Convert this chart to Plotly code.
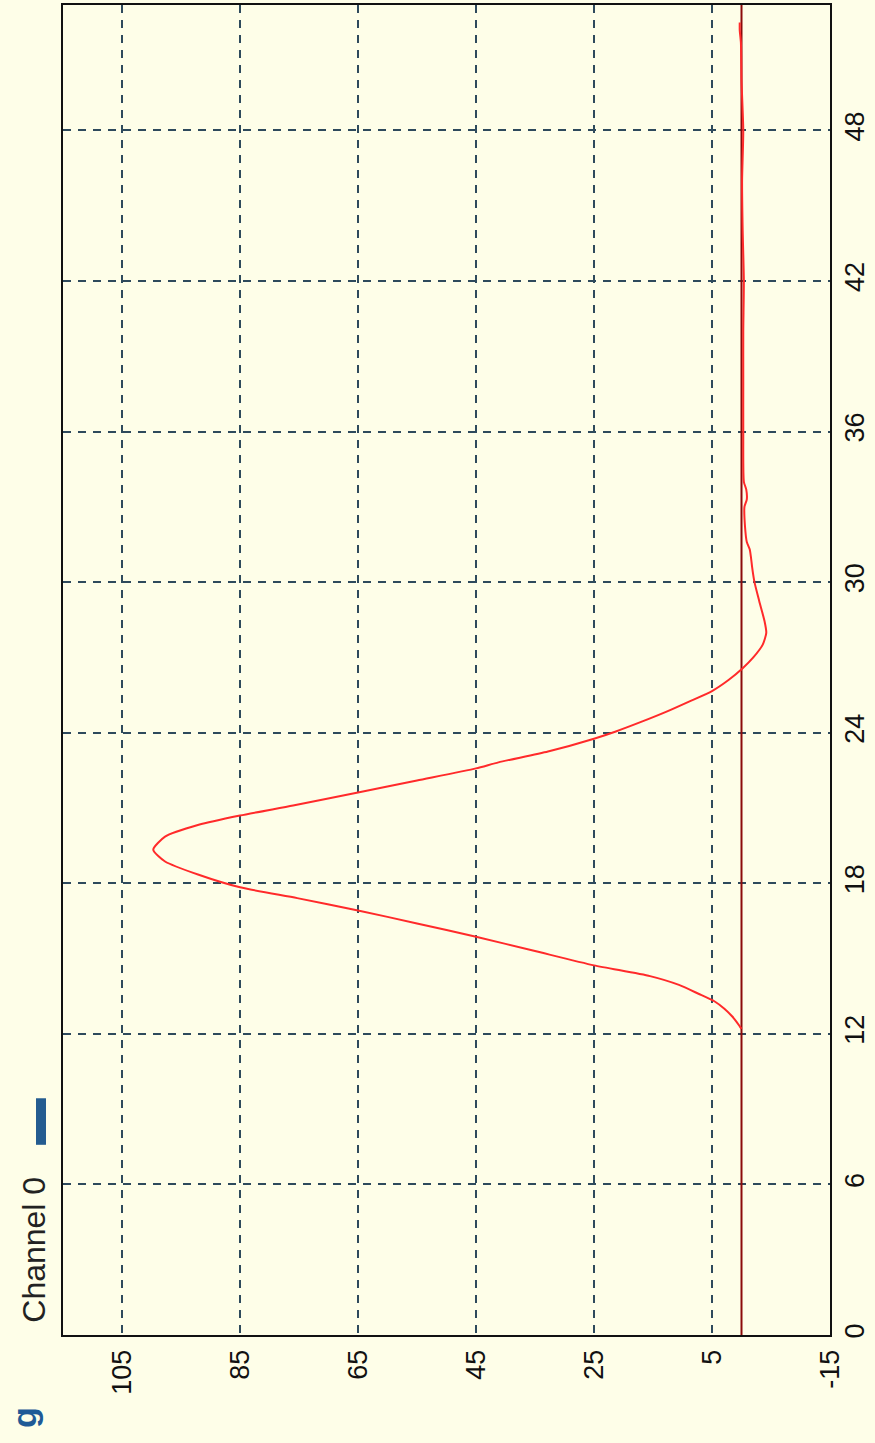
import plotly.graph_objects as go

# Time axis (drawn vertically) and signal values (drawn horizontally)
time = [12.2, 12.3, 12.5, 12.7, 13.0, 13.3, 13.6, 13.95, 14.3, 14.73, 15.3, 15.87,
        16.4, 16.92, 17.41, 17.84, 18.34, 18.87, 19.34, 19.86, 20.33, 20.7, 21.1,
        21.62, 22.1, 22.58, 22.82, 23.25, 23.76, 24.05, 24.45, 24.83, 25.25, 25.66,
        26.1, 26.57, 27.0, 27.51, 27.98, 28.45, 29.25, 30.0, 30.6, 31.0, 31.3, 31.6,
        32.2, 33.0, 33.3, 33.7, 34.0, 36.0, 38.0, 40.0, 42.0, 44.0, 46.0, 48.0,
        50.0, 51.5, 52.0, 52.3]
signal = [0.0, 0.3, 0.9, 1.6, 2.9, 4.6, 7.3, 10.6, 15.5, 25.0, 35.0, 45.0,
          55.0, 65.0, 75.3, 85.0, 92.0, 97.7, 99.7, 97.7, 92.0, 85.0, 76.0,
          65.0, 55.0, 45.0, 41.2, 32.8, 25.0, 21.3, 16.8, 12.8, 8.8, 5.0,
          2.2, -0.2, -2.0, -3.6, -4.2, -3.9, -3.0, -2.2, -1.8, -1.6, -1.4, -0.9,
          -0.6, -0.5, -0.9, -0.8, -0.4, -0.3, -0.3, -0.3, -0.4, -0.2, -0.1, -0.3,
          0.0, 0.1, 0.3, 0.3]

baseline_time = [0, 53]
baseline_value = [0, 0]

value_ticks = [105, 85, 65, 45, 25, 5, -15]
time_ticks = [0, 6, 12, 18, 24, 30, 36, 42, 48]

BG = "#FEFEE8"
GRID = "#2E4A5C"
FONT = "Liberation Sans Narrow, Arial Narrow, Liberation Sans, Arial, sans-serif"

fig = go.Figure()
fig.add_trace(go.Scatter(x=baseline_value, y=baseline_time, mode="lines",
                         line=dict(color="#8B0A0A", width=2), showlegend=False,
                         hoverinfo="skip"))
fig.add_trace(go.Scatter(x=signal, y=time, mode="lines",
                         line=dict(color="#FF2A2A", width=2, shape="spline", smoothing=0.6),
                         name="Channel 0", showlegend=False))

fig.update_layout(
    width=875, height=1443,
    margin=dict(l=63, r=45, t=5, b=108),
    paper_bgcolor=BG, plot_bgcolor=BG,
    font=dict(family=FONT, color="#111111"),
)
fig.update_xaxes(
    range=[115, -15], tickvals=value_ticks, ticktext=[str(v) for v in value_ticks],
    tickangle=-90, tickfont=dict(size=27, family=FONT, color="#111111"),
    showgrid=True, gridcolor=GRID, gridwidth=2, griddash="8px,7px",
    showline=True, linecolor="#111111", linewidth=2, mirror=True,
    zeroline=False, ticks="", ticklabelstandoff=2, automargin=False,
)
fig.update_yaxes(
    range=[0, 53], tickvals=time_ticks, ticktext=[str(v) for v in time_ticks],
    side="right", tickangle=-90, tickfont=dict(size=27, family=FONT, color="#111111"),
    showgrid=True, gridcolor=GRID, gridwidth=2, griddash="8px,7px",
    showline=True, linecolor="#111111", linewidth=2, mirror=True,
    zeroline=False, ticks="", ticklabelstandoff=0, automargin=False,
)

fig.add_annotation(text="Channel 0", xref="paper", yref="paper", x=-0.038, y=0.064,
                   xanchor="center", yanchor="middle", textangle=-90, showarrow=False,
                   font=dict(size=32, family=FONT, color="#222222"))
fig.add_annotation(text="<b>g</b>", xref="paper", yref="paper", x=-0.05, y=-0.062,
                   xanchor="center", yanchor="middle", textangle=-90, showarrow=False,
                   font=dict(size=34, family="Liberation Sans, Arial, sans-serif",
                             color="#1F5A96"))
fig.add_shape(type="rect", xref="paper", yref="paper", x0=-0.0352, x1=-0.0222,
              y0=0.143, y1=0.178, fillcolor="#245C90", line=dict(width=0))

fig.write_html("out.html", config={"displayModeBar": False},
               post_script="document.body.style.margin='0';"
                           "document.body.style.background='" + BG + "';")
